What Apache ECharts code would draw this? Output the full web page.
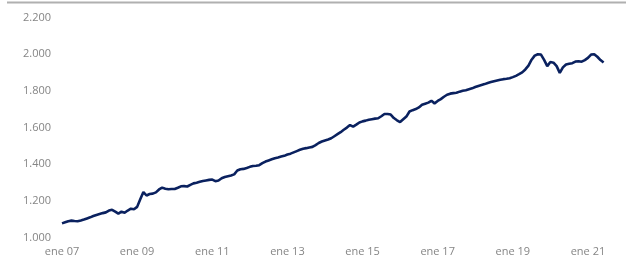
<!DOCTYPE html>
<html>
<head>
<meta charset="utf-8">
<script src="https://cdn.jsdelivr.net/npm/echarts@6/dist/echarts.min.js"></script>
<style>
html,body{margin:0;padding:0;background:#fff;}
#chart{width:626px;height:265px;}
</style>
</head>
<body>
<div id="chart"></div>
<script>
const monthNames = ['ene','feb','mar','abr','may','jun','jul','ago','sep','oct','nov','dic'];
const startYear = 2007;
const values = [
1078,1084,1090,1093,1091,1090,1094,1099,1105,1111,1118,1124,
1129,1134,1138,1148,1152,1142,1131,1142,1136,1148,1158,1155,
1168,1210,1249,1230,1238,1240,1247,1263,1273,1267,1264,1265,
1265,1272,1280,1281,1279,1288,1296,1300,1305,1309,1312,1315,
1317,1308,1312,1324,1331,1335,1339,1345,1366,1373,1375,1380,
1386,1391,1392,1395,1406,1415,1421,1427,1433,1437,1442,1446,
1453,1458,1465,1472,1479,1485,1488,1492,1495,1505,1516,1524,
1530,1535,1542,1553,1564,1575,1588,1600,1614,1605,1616,1628,
1634,1638,1643,1646,1649,1651,1662,1674,1674,1671,1652,1640,
1630,1645,1660,1688,1695,1701,1710,1724,1730,1736,1746,1732,
1745,1755,1768,1779,1785,1788,1790,1796,1801,1804,1809,1814,
1821,1827,1832,1837,1843,1848,1853,1857,1861,1864,1866,1869,
1875,1882,1891,1901,1917,1938,1970,1992,2000,1998,1969,1935,
1958,1954,1935,1898,1928,1944,1948,1951,1960,1962,1959,1968,
1980,1998,2000,1986,1968,1955
];
const categories = values.map((v, i) => {
  const y = startYear + Math.floor(i / 12);
  return monthNames[i % 12] + ' ' + String(y % 100).padStart(2, '0');
});
const yMin = 1000, yMax = 2200, yStep = 200;

function fmt(v) {
  const th = Math.floor(v / 1000);
  const rest = String(v % 1000).padStart(3, '0');
  return th + '.' + rest;
}

const chart = echarts.init(document.getElementById('chart'), null, {renderer: 'canvas'});
chart.setOption({
  animation: false,
  backgroundColor: '#ffffff',
  grid: {left: 62, right: 22.4, top: 17.5, bottom: 27.3, containLabel: false},
  graphic: [{
    type: 'line',
    shape: {x1: 7, y1: 2.5, x2: 626, y2: 2.5},
    style: {stroke: '#b0b0b0', lineWidth: 2}
  }],
  xAxis: {
    type: 'category',
    data: categories,
    boundaryGap: false,
    axisLine: {show: false},
    axisTick: {show: false},
    splitLine: {show: false},
    axisLabel: {
      interval: 23,
      color: '#858585',
      fontFamily: 'Open Sans',
      fontSize: 11,
      margin: 9
    }
  },
  yAxis: {
    type: 'value',
    min: yMin, max: yMax, interval: yStep,
    axisLine: {show: false},
    axisTick: {show: false},
    splitLine: {show: false},
    axisLabel: {
      color: '#858585',
      fontFamily: 'Open Sans',
      fontSize: 11,
      margin: 11,
      formatter: fmt
    }
  },
  series: [{
    type: 'line',
    data: values,
    showSymbol: false,
    symbol: 'none',
    lineStyle: {color: '#0a215f', width: 2.6},
    smooth: false
  }]
});
</script>
</body>
</html>
